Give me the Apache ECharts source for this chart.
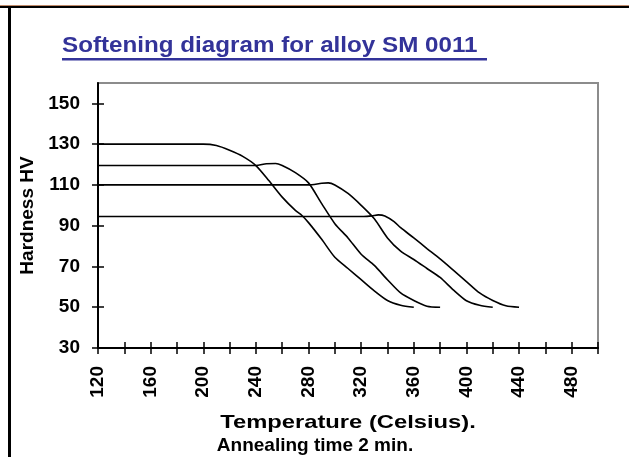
<!DOCTYPE html>
<html>
<head>
<meta charset="utf-8">
<script src="https://cdn.jsdelivr.net/npm/echarts@6/dist/echarts.min.js"></script>
<style>
html,body{margin:0;padding:0;background:#fff;}
#chart{width:629px;height:457px;}
</style>
</head>
<body>
<div id="chart"></div>
<script>
// ---- data ----
var tA = [120, 200, 210, 220, 230, 240, 250, 260, 270, 275, 280, 290, 300, 310, 320, 330, 340, 350, 360];
var hA = [130, 130, 129.3, 127, 124, 119.5, 112, 104, 97.5, 95, 91.5, 83.3, 74.5, 69, 63.5, 58, 53.3, 51, 50];

var tB = [120, 240, 248, 255, 260, 270, 280, 290, 300, 310, 320, 330, 340, 350, 360, 370, 380];
var hB = [119.5, 119.5, 120.4, 120.5, 119.5, 116, 111, 100.8, 91, 84, 76, 70.5, 63.5, 57, 53.3, 50.5, 50];

var tC = [120, 280, 290, 295, 300, 310, 320, 330, 340, 350, 360, 370, 380, 390, 400, 410, 420];
var hC = [110, 110, 110.8, 111, 110, 105.8, 100, 93.4, 84, 77.5, 73.4, 69, 64.6, 58.5, 53.2, 51, 50];

var tD = [120, 322, 328, 333, 338, 345, 350, 360, 370, 380, 390, 400, 410, 420, 430, 440];
var hD = [94.5, 94.5, 94.8, 95.3, 94.8, 92, 89, 84, 78.8, 73.7, 68.2, 62.6, 57, 53.3, 50.7, 50];

var xTicks = [120, 140, 160, 180, 200, 220, 240, 260, 280, 300, 320, 340, 360, 380, 400, 420, 440, 460, 480, 500];
var xLabels = [120, 160, 200, 240, 280, 320, 360, 400, 440, 480];
var yTicks = [30, 50, 70, 90, 110, 130, 150];
var yLabels = [30, 50, 70, 90, 110, 130, 150];

var titleText = 'Softening diagram for alloy SM 0011 ';
var xName = 'Temperature (Celsius).';
var xSub = 'Annealing time 2 min.';
var yName = 'Hardness HV';

function pairs(t, h) { return t.map(function (v, i) { return [v, h[i]]; }); }

var FONT = '"Liberation Sans", Arial, sans-serif';
var chart = echarts.init(document.getElementById('chart'), null, {renderer: 'canvas'});

function lineSeries(t, h) {
  return {
    type: 'line', xAxisIndex: 0, yAxisIndex: 0,
    data: pairs(t, h), showSymbol: false, symbol: 'none', smooth: 0.25,
    lineStyle: {color: '#000', width: 1.6}, animation: false, silent: true
  };
}

var option = {
  backgroundColor: '#fff',
  animation: false,
  grid: {left: 98, right: 31, top: 83, bottom: 109, show: true, borderColor: '#8c8c8c', borderWidth: 2, backgroundColor: 'transparent'},
  xAxis: [{
    type: 'value', min: 120, max: 500, position: 'bottom',
    axisLine: {show: true, lineStyle: {color: '#000', width: 2}},
    axisTick: {show: true, length: 6, inside: false, customValues: xTicks, lineStyle: {color: '#000', width: 1.5}},
    axisLabel: {show: true, customValues: xLabels, rotate: 90, margin: 18, color: '#000', fontFamily: FONT, fontWeight: 'bold', fontSize: 19},
    splitLine: {show: false}
  }, {
    type: 'value', min: 120, max: 500, position: 'bottom', gridIndex: 0,
    axisLine: {show: false},
    axisTick: {show: true, length: 6, inside: true, customValues: xTicks, lineStyle: {color: '#000', width: 1.5}},
    axisLabel: {show: false},
    splitLine: {show: false}
  }],
  yAxis: [{
    type: 'value', min: 30, max: 160, position: 'left',
    name: yName, nameLocation: 'middle', nameGap: 60,
    nameTextStyle: {color: '#000', fontFamily: FONT, fontWeight: 'bold', fontSize: 19},
    axisLine: {show: true, lineStyle: {color: '#000', width: 2}},
    axisTick: {show: true, length: 6, inside: false, customValues: yTicks, lineStyle: {color: '#000', width: 1.5}},
    axisLabel: {show: true, customValues: yLabels, margin: 18, color: '#000', fontFamily: FONT, fontWeight: 'bold', fontSize: 19},
    splitLine: {show: false}
  }, {
    type: 'value', min: 30, max: 160, position: 'left', gridIndex: 0,
    axisLine: {show: false},
    axisTick: {show: true, length: 6, inside: true, customValues: yTicks, lineStyle: {color: '#000', width: 1.5}},
    axisLabel: {show: false},
    splitLine: {show: false}
  }],
  series: [lineSeries(tA, hA), lineSeries(tB, hB), lineSeries(tC, hC), lineSeries(tD, hD)],
  graphic: [
    {type: 'rect', shape: {x: 0, y: 5, width: 629, height: 1}, style: {fill: '#c08a6a'}, silent: true},
    {type: 'rect', shape: {x: 0, y: 6, width: 629, height: 2}, style: {fill: '#000'}, silent: true},
    {type: 'rect', shape: {x: 8, y: 6, width: 3, height: 451}, style: {fill: '#000'}, silent: true},
    {type: 'text', x: 62, y: 46, scaleX: 1.1, silent: true,
      style: {text: titleText, fill: '#333399', font: 'bold 22px ' + FONT, textVerticalAlign: 'middle'}},
    {type: 'rect', shape: {x: 62, y: 58, width: 425, height: 2.5}, style: {fill: '#333399'}, silent: true},
    {type: 'text', x: 348, y: 423, scaleX: 1.25, silent: true,
      style: {text: xName, fill: '#000', font: 'bold 19px ' + FONT, textAlign: 'center', textVerticalAlign: 'middle'}},
    {type: 'text', x: 315, y: 446, silent: true,
      style: {text: xSub, fill: '#000', font: 'bold 19px ' + FONT, textAlign: 'center', textVerticalAlign: 'middle'}}
  ]
};
chart.setOption(option);
</script>
</body>
</html>
